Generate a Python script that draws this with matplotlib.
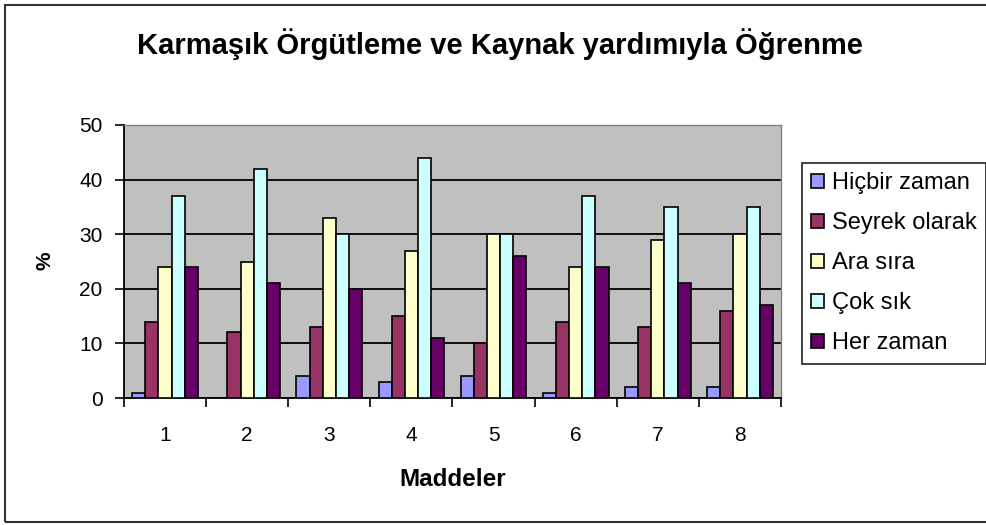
import matplotlib
matplotlib.use("Agg")
import matplotlib.pyplot as plt
import numpy as np
from matplotlib.patches import Rectangle

plt.rcParams['font.family'] = ['Liberation Sans', 'DejaVu Sans']

categories = ['1', '2', '3', '4', '5', '6', '7', '8']
series_names = ['Hiçbir zaman', 'Seyrek olarak', 'Ara sıra', 'Çok sık', 'Her zaman']
hicbir = [1, 0, 4, 3, 4, 1, 2, 2]
seyrek = [14, 12, 13, 15, 10, 14, 13, 16]
ara = [24, 25, 33, 27, 30, 24, 29, 30]
cok = [37, 42, 30, 44, 30, 37, 35, 35]
her = [24, 21, 20, 11, 26, 24, 21, 17]
colors = ['#9999FF', '#993366', '#FFFFCC', '#CCFFFF', '#660066']
yticks = [0, 10, 20, 30, 40, 50]

W, H = 987, 525
fig = plt.figure(figsize=(W / 100, H / 100), dpi=100)
fig.patch.set_facecolor('white')
# outer chart border (extends beyond the right edge as in the reference)
fig.add_artist(Rectangle((5 / W, 3 / H), 1.2, 1 - 8 / H, transform=fig.transFigure,
                         fill=False, edgecolor='#333333', linewidth=1.5))

ax = fig.add_axes([124 / W, 1 - 398 / H, 657 / W, 273 / H])
ax.set_facecolor('#C0C0C0')

x = np.arange(len(categories))
w = 0.16
data = [hicbir, seyrek, ara, cok, her]
for i, (vals, name, c) in enumerate(zip(data, series_names, colors)):
    ax.bar(x + (i - 2) * w, vals, width=w, color=c, edgecolor='black',
           linewidth=1.2, label=name, zorder=3)

ax.set_xlim(-0.5, len(categories) - 0.5)
ax.set_ylim(0, 50)
ax.set_yticks(yticks)
ax.set_yticklabels([str(t) for t in yticks], fontsize=15)
ax.yaxis.grid(True, color='black', linewidth=1.3, zorder=1)
ax.set_axisbelow(True)

ax.set_xticks(x)
ax.set_xticklabels(categories, fontsize=15)
ax.tick_params(axis='x', length=0, pad=20)
ax.set_xticks(np.arange(-0.5, len(categories), 1.0), minor=True)
ax.tick_params(axis='x', which='minor', length=6.5, width=1.2, direction='out')
ax.tick_params(axis='y', length=6.5, width=1.2, direction='out', pad=9)

for s in ['top', 'right']:
    ax.spines[s].set_color('#808080')
    ax.spines[s].set_linewidth(1.0)
for s in ['left', 'bottom']:
    ax.spines[s].set_color('black')
    ax.spines[s].set_linewidth(1.3)

fig.text(453 / W, 1 - 479 / H, 'Maddeler', ha='center', va='center',
         fontsize=17.5, fontweight='bold')
fig.text(45 / W, 1 - 261 / H, '%', ha='center', va='center', rotation=90,
         fontsize=15, fontweight='bold')

fig.text(500 / W, 1 - 44 / H, 'Karmaşık Örgütleme ve Kaynak yardımıyla Öğrenme',
         ha='center', va='center', fontsize=21, fontweight='bold')

leg = fig.legend(loc='upper left', bbox_to_anchor=(802 / W, 1 - 163 / H), fontsize=17,
                 frameon=True, fancybox=False, edgecolor='black',
                 handlelength=0.55, handleheight=0.55, handletextpad=0.3,
                 labelspacing=0.76, borderpad=0.4, borderaxespad=0)
leg.get_frame().set_linewidth(1.3)

fig.savefig('out.png', dpi=100)
